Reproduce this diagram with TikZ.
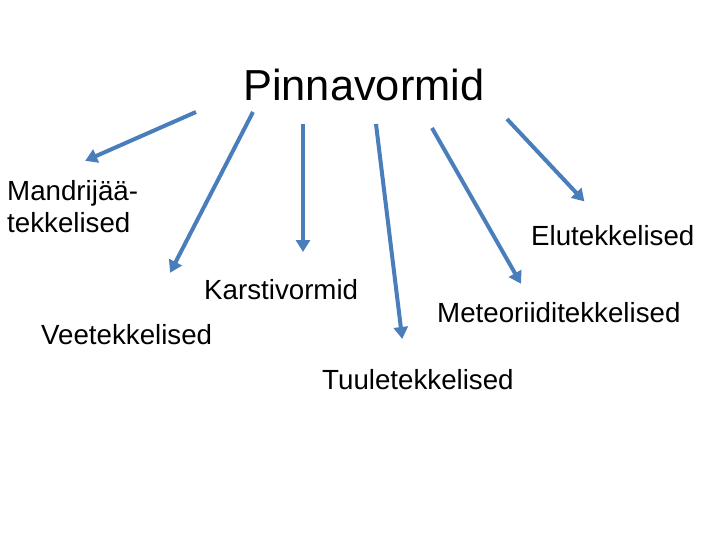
\documentclass[tikz,border=0pt]{standalone}
\usepackage{fontspec}
\setmainfont{Liberation Sans}
\usetikzlibrary{arrows.meta}
\definecolor{arrowblue}{HTML}{4A7EBB}
\tikzset{
  lbl/.style={anchor=base west, inner sep=0pt, font=\fontsize{27.7}{30}\selectfont},
  ttl/.style={anchor=base west, inner sep=0pt, font=\fontsize{43.4}{48}\selectfont},
  arr/.style={draw=arrowblue, line width=4pt, -{Triangle[length=12pt,width=14pt]}, shorten >=-2pt}
}
\begin{document}
\begin{tikzpicture}[x=1pt,y=-1pt]
\useasboundingbox (0,0) rectangle (720,540);
\node[ttl] (title) at (243,101) {Pinnavormid};
\node[lbl] (mand1) at (7,201) {Mandrijää-};
\node[lbl] (mand2) at (7,233) {tekkelised};
\node[lbl] (elu) at (531,245) {Elutekkelised};
\node[lbl] (karst) at (204,299) {Karstivormid};
\node[lbl] (meteo) at (437,322) {Meteoriiditekkelised};
\node[lbl] (vee) at (41,344) {Veetekkelised};
\node[lbl] (tuul) at (322,389) {Tuuletekkelised};
\coordinate (s1) at (196,112); \coordinate (e1) at (87,160);
\coordinate (s2) at (253,112); \coordinate (e2) at (171,271);
\coordinate (s3) at (303,124); \coordinate (e3) at (303,250);
\coordinate (s4) at (376,124); \coordinate (e4) at (402,337);
\coordinate (s5) at (432,128); \coordinate (e5) at (520,282);
\coordinate (s6) at (507,119); \coordinate (e6) at (583,200);
\draw[arr] (s1) -- (e1);
\draw[arr] (s2) -- (e2);
\draw[arr] (s3) -- (e3);
\draw[arr] (s4) -- (e4);
\draw[arr] (s5) -- (e5);
\draw[arr] (s6) -- (e6);
\end{tikzpicture}
\end{document}
